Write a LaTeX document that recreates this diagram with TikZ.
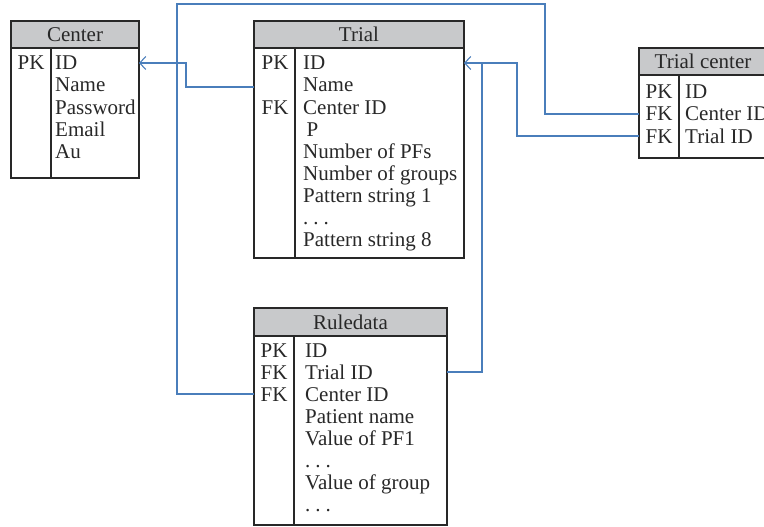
\documentclass[tikz,border=0pt]{standalone}
\usepackage{fontspec}
\setmainfont{Liberation Serif}
\usetikzlibrary{positioning}
\usetikzlibrary{arrows.meta}

\definecolor{linkblue}{RGB}{74,126,187}
\definecolor{headgray}{RGB}{200,201,203}
\definecolor{tblline}{RGB}{40,40,40}

\tikzset{
    tblfont/.style={font=\fontsize{21}{22}\selectfont, text=tblline},
    tblhead/.style={tblfont, draw=tblline, fill=headgray, line width=1.2pt,
        minimum height=27pt, inner sep=0pt, outer sep=0pt, anchor=north west},
    tblbody/.style={draw=tblline, line width=1.2pt, inner sep=0pt, outer sep=0pt},
    keycell/.style={tblfont, inner sep=0pt, text height=14pt, text depth=0pt},
    fieldcell/.style={tblfont, inner sep=0pt, text height=14pt, text depth=0pt, anchor=west},
    fklink/.style={draw=linkblue, line width=1.1pt},
    fkarrow/.style={fklink, -{Straight Barb[length=6pt,width=13pt]}},
}

\begin{document}
\begin{tikzpicture}[x=1pt, y=-1pt]
    \useasboundingbox (0,0) rectangle (764,527);

    % Center
    \node[tblhead, minimum width=128pt] (center) at (11,21) {Center};
    \node[tblbody, minimum width=128pt, minimum height=130pt, below=0pt of center] (centerbody) {};
    \draw[tblbody] ([xshift=40pt]centerbody.north west) -- ([xshift=40pt]centerbody.south west);
    \foreach \k/\f [count=\i] in {PK/ID, /Name, /Password, /Email, /Au} {
        \node[keycell] at ([shift={(20,15+22*(\i-1))}]centerbody.north west) {\k};
        \node[fieldcell] (center-\i) at ([shift={(44,15+22*(\i-1))}]centerbody.north west) {\f};
    }

    % Trial
    \node[tblhead, minimum width=210pt] (trial) at (254,21) {Trial};
    \node[tblbody, minimum width=210pt, minimum height=210pt, below=0pt of trial] (trialbody) {};
    \draw[tblbody] ([xshift=41pt]trialbody.north west) -- ([xshift=41pt]trialbody.south west);
    \foreach \k/\f [count=\i] in {PK/ID, /Name, FK/Center ID, /\,P, /Number of PFs,
            /Number of groups, /Pattern string 1, /{.\hspace{5pt}.\hspace{5pt}.}, /Pattern string 8} {
        \node[keycell] at ([shift={(21,15+22*(\i-1))}]trialbody.north west) {\k};
        \node[fieldcell] (trial-\i) at ([shift={(49,15+22*(\i-1))}]trialbody.north west) {\f};
    }

    % Trial center
    \node[tblhead, minimum width=150pt] (trialcenter) at (639,48) {\hspace*{-22pt}Trial center};
    \node[tblbody, minimum width=150pt, minimum height=83pt, below=0pt of trialcenter] (trialcenterbody) {};
    \draw[tblbody] ([xshift=40pt]trialcenterbody.north west) -- ([xshift=40pt]trialcenterbody.south west);
    \foreach \k/\f [count=\i] in {PK/ID, FK/Center ID, FK/Trial ID} {
        \node[keycell] at ([shift={(20,17+22*(\i-1))}]trialcenterbody.north west) {\k};
        \node[fieldcell] (trialcenter-\i) at ([shift={(46,17+22*(\i-1))}]trialcenterbody.north west) {\f};
    }

    % Ruledata
    \node[tblhead, minimum width=193pt, minimum height=28pt] (ruledata) at (254,308) {Ruledata};
    \node[tblbody, minimum width=193pt, minimum height=189pt, below=0pt of ruledata] (ruledatabody) {};
    \draw[tblbody] ([xshift=40pt]ruledatabody.north west) -- ([xshift=40pt]ruledatabody.south west);
    \foreach \k/\f [count=\i] in {PK/ID, FK/Trial ID, FK/Center ID, /Patient name,
            /Value of PF1, /{.\hspace{5pt}.\hspace{5pt}.}, /Value of group, /{.\hspace{5pt}.\hspace{5pt}.}} {
        \node[keycell] at ([shift={(20,14+22*(\i-1))}]ruledatabody.north west) {\k};
        \node[fieldcell] (ruledata-\i) at ([shift={(51,14+22*(\i-1))}]ruledatabody.north west) {\f};
    }

    % links
    \coordinate (bendA) at (186,0);
    \coordinate (topL) at (177,4);
    \coordinate (topR) at (545,4);
    \coordinate (bendC) at (517,0);
    \coordinate (bendD) at (482,0);

    \draw[fkarrow] ([yshift=-2pt]trialbody.west |- trial-2) -| (bendA |- center-1) -- (centerbody.east |- center-1);
    \draw[fklink] (ruledatabody.west |- ruledata-3) -| (topL) -| (topR |- trialcenter-2) -- (trialcenterbody.west |- trialcenter-2);
    \draw[fkarrow] (trialcenterbody.west |- trialcenter-3) -| (bendC |- trial-1) -- (trialbody.east |- trial-1);
    \draw[fklink] (ruledatabody.east |- ruledata-2) -| (bendD |- trial-1);
\end{tikzpicture}
\end{document}
